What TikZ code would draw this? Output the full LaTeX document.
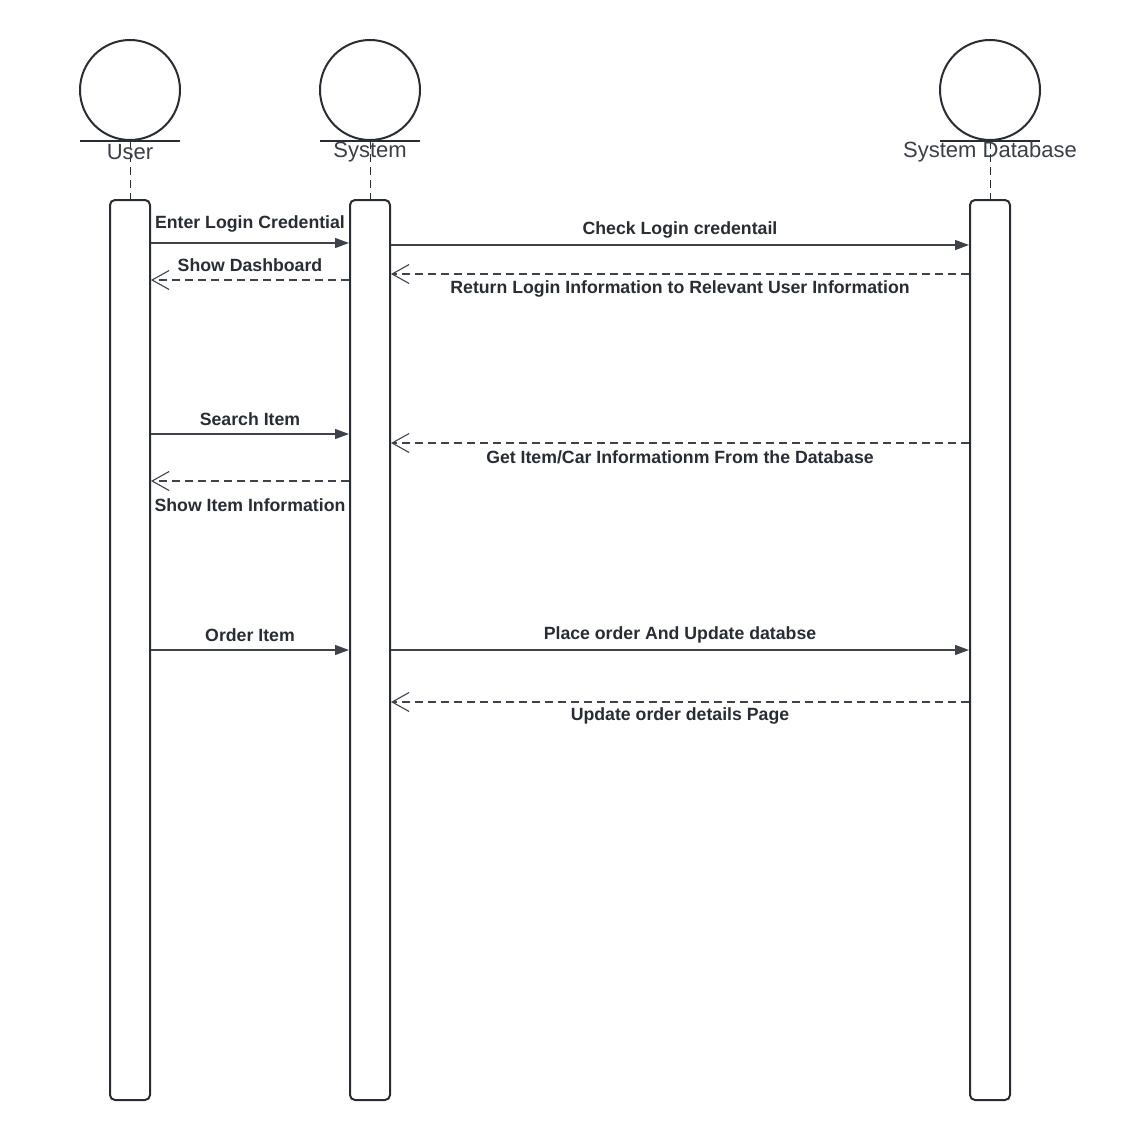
\documentclass[tikz,border=0pt]{standalone}
\usepackage{fontspec}
\setmainfont{Liberation Sans}
\usetikzlibrary{arrows.meta,positioning}

\definecolor{inkgray}{HTML}{282C33}
\definecolor{msggray}{HTML}{3E434B}
\definecolor{namegray}{HTML}{3A3F47}

\tikzset{
  actor/.style={draw=inkgray, line width=2pt, circle, minimum size=100pt, inner sep=0pt},
  actorname/.style={text=namegray, font=\fontsize{22}{24}\selectfont, inner sep=0pt},
  bar/.style={draw=inkgray, line width=2pt, rounded corners=5pt, minimum width=40pt, minimum height=900pt, inner sep=0pt},
  life/.style={draw=inkgray, line width=1pt, dash pattern=on 8pt off 5pt},
  call/.style={draw=msggray, line width=1.3pt, -{Triangle[length=14pt,width=10pt]}},
  reply/.style={draw=msggray, line width=1.1pt, dash pattern=on 8pt off 5pt, -{Straight Barb[length=17pt,width=19pt]}},
  msglabel/.style={text=inkgray, font=\bfseries\fontsize{17.7}{20}\selectfont, inner sep=0pt}
}

\begin{document}
\begin{tikzpicture}[x=1pt, y=-1pt]
  \useasboundingbox (0,0) rectangle (1120,1140);

  % actors
  \node[actor] (user) at (130,90) {};
  \node[actor] (system) at (370,90) {};
  \node[actor] (database) at (990,90) {};
  \draw[inkgray, line width=2pt] (user.south) ++(-50,0) -- ++(100,0);
  \draw[inkgray, line width=2pt] (system.south) ++(-50,0) -- ++(100,0);
  \draw[inkgray, line width=2pt] (database.south) ++(-50,0) -- ++(100,0);

  % activation bars
  \node[bar] (userbar) at (130,650) {};
  \node[bar] (sysbar) at (370,650) {};
  \node[bar] (dbbar) at (990,650) {};

  \draw[life] (user.south) -- (userbar.north);
  \draw[life] (system.south) -- (sysbar.north);
  \draw[life] (database.south) -- (dbbar.north);

  \node[actorname] (username) at (130,152) {User};
  \node[actorname] (sysname) at (370,152) {System};
  \node[actorname] (dbname) at (990,152) {System Database};

  % message heights
  \coordinate (login) at (0,243);
  \coordinate (check) at (0,245);
  \coordinate (dash) at (0,280);
  \coordinate (ret) at (0,274);
  \coordinate (search) at (0,434);
  \coordinate (getitem) at (0,443);
  \coordinate (showitem) at (0,481);
  \coordinate (order) at (0,650);
  \coordinate (place) at (0,650);
  \coordinate (update) at (0,702);

  % messages
  \draw[call] (userbar.east |- login) -- (sysbar.west |- login);
  \draw[call] (sysbar.east |- check) -- (dbbar.west |- check);
  \draw[reply] (sysbar.west |- dash) -- (userbar.east |- dash);
  \draw[reply] (dbbar.west |- ret) -- (sysbar.east |- ret);
  \draw[call] (userbar.east |- search) -- (sysbar.west |- search);
  \draw[reply] (dbbar.west |- getitem) -- (sysbar.east |- getitem);
  \draw[reply] (sysbar.west |- showitem) -- (userbar.east |- showitem);
  \draw[call] (userbar.east |- order) -- (sysbar.west |- order);
  \draw[call] (sysbar.east |- place) -- (dbbar.west |- place);
  \draw[reply] (dbbar.west |- update) -- (sysbar.east |- update);

  % message labels
  \node[msglabel] (loginlbl) at (250,224) {Enter Login Credential};
  \node[msglabel] (checklbl) at (680,230) {Check Login credentail};
  \node[msglabel] (dashlbl) at (250,265) {Show Dashboard};
  \node[msglabel] (retlbl) at (680,289) {Return Login Information to Relevant User Information};
  \node[msglabel] (searchlbl) at (250,419) {Search Item};
  \node[msglabel] (getlbl) at (680,457) {Get Item/Car Informationm From the Database};
  \node[msglabel] (showlbl) at (250,505) {Show Item Information};
  \node[msglabel] (orderlbl) at (250,635) {Order Item};
  \node[msglabel] (placelbl) at (680,635) {Place order And Update databse};
  \node[msglabel] (updatelbl) at (680,716) {Update order details Page};
\end{tikzpicture}
\end{document}
